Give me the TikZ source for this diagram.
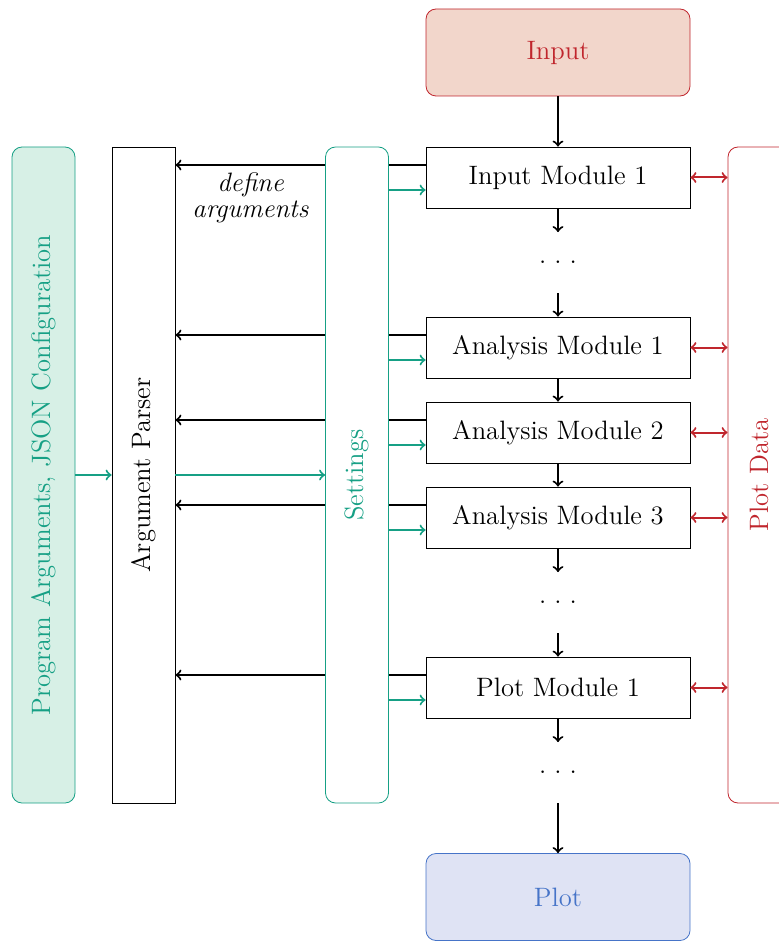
\documentclass[tikz,border=0pt]{standalone}
\usetikzlibrary{arrows,shapes,positioning}

\definecolor{argteal}{RGB}{22,160,133}
\definecolor{argfill}{RGB}{215,240,230}
\definecolor{datared}{RGB}{192,38,45}
\definecolor{inputfill}{RGB}{242,214,203}
\definecolor{plotblue}{RGB}{70,116,200}
\definecolor{plotfill}{RGB}{223,227,244}

\newcommand{\gapdots}{.\hspace{4pt}.\hspace{4pt}.}

\begin{document}
\fontsize{13.3}{13}\selectfont
\begin{tikzpicture}[x=0.5pt,y=-0.5pt,node distance=42.5pt,>=to]
  \tikzstyle{module}=[rectangle,draw,fill=white,minimum width=132pt,minimum height=30.5pt,inner sep=0pt]
  \tikzstyle{io}=[rectangle,rounded corners=5pt,minimum width=132pt,minimum height=43.5pt]
  \tikzstyle{bar}=[rectangle,rotate=90,minimum width=328pt,minimum height=31.5pt,inner sep=0pt]
  \tikzstyle{gap}=[minimum height=30pt,inner sep=0pt]
  \tikzstyle{feed}=[<-,line width=1pt]

  \useasboundingbox (0,0) rectangle (779,941);

    \node [bar,draw=argteal,fill=argfill,text=argteal,rounded corners=5pt] (progargs) at (43.5,475) {Program Arguments, JSON Configuration};
    \node [bar,draw] (parser) at (143.5,475) {Argument Parser};

    \node [io,draw=datared,fill=inputfill,text=datared] (input) at (558,52.5) {Input};
    \node [module] (im1) at (558,177.5) {Input Module 1}
        edge [feed] (input);
    \node [gap] (d1) [below of=im1] {\gapdots}
        edge [feed] (im1);
    \node [module] (am1) [below of=d1] {Analysis Module 1}
        edge [feed] (d1);
    \node [module] (am2) [below of=am1] {Analysis Module 2}
        edge [feed] (am1);
    \node [module] (am3) [below of=am2] {Analysis Module 3}
        edge [feed] (am2);
    \node [gap] (d2) [below of=am3] {\gapdots}
        edge [feed] (am3);
    \node [module] (pm1) [below of=d2] {Plot Module 1}
        edge [feed] (d2);
    \node [gap] (d3) [below of=pm1] {\gapdots}
        edge [feed] (pm1);
    \node [io,draw=plotblue,fill=plotfill,text=plotblue] (plot) at (558,897) {Plot}
        edge [feed] (d3);

    % modules define their arguments
    \foreach \m in {im1,am1,am2,am3,pm1}
      \draw [->,line width=1pt] ([yshift=6.25pt]\m.west) -- ([yshift=6.25pt]\m.west -| parser.south);
    \node [font=\itshape,align=center] (definelabel) at (250.5,198) {define\\arguments};

    \node [bar,draw=argteal,fill=white,text=argteal,rounded corners=5pt] (settings) at (357,475) {Settings};
    \node [bar,draw=datared,text=datared,rounded corners=5pt] (plotdata) at (759.5,475) {Plot Data};

    \draw [->,line width=1pt,argteal] (progargs.south) -- (parser.north);
    \draw [->,line width=1pt,argteal] (parser.south) -- (settings.north);
    \foreach \m in {im1,am1,am2,am3,pm1} {
      \draw [->,line width=1pt,argteal] ([yshift=-6.25pt]\m.west -| settings.south) -- ([yshift=-6.25pt]\m.west);
      \draw [<->,line width=1pt,datared] (\m.east) -- (\m.east -| plotdata.north);
    }
\end{tikzpicture}
\end{document}
